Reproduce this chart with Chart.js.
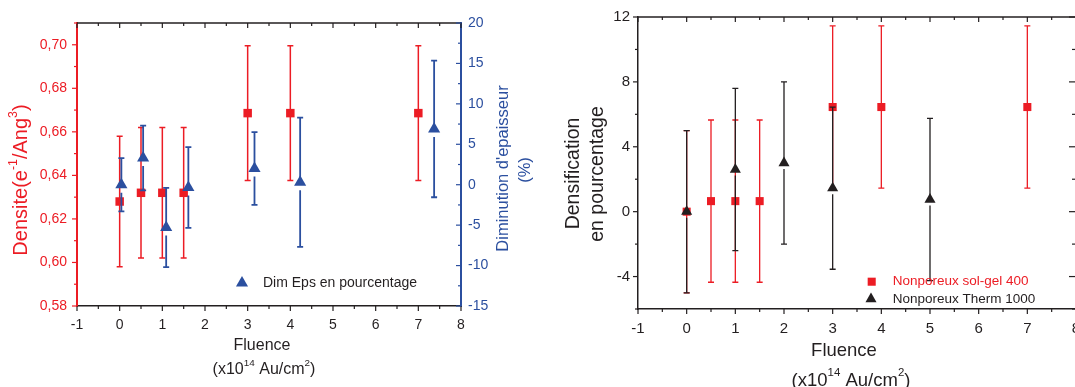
<!DOCTYPE html>
<html>
<head>
<meta charset="utf-8">
<script src="https://cdn.jsdelivr.net/npm/chart.js@4.4.1/dist/chart.umd.min.js"></script>
<style>
  html, body { margin: 0; padding: 0; background: #fff; overflow: hidden; }
  body { width: 1075px; height: 387px; position: relative; }
  #left { position: absolute; left: 0; top: 0; }
  #right { position: absolute; left: 540px; top: 0; }
</style>
</head>
<body>
<canvas id="left" width="540" height="387"></canvas>
<canvas id="right" width="560" height="387"></canvas>
<script>
// Left panel: density (red) + thickness decrease (blue)
const densFluence = [0, 0.5, 1, 1.5, 3, 4, 7];
const densValues = [0.628, 0.632, 0.632, 0.632, 0.6686, 0.6686, 0.6686];
const densErrors = [0.030, 0.030, 0.030, 0.030, 0.031, 0.031, 0.031];

const epsFluence = [0.04, 0.55, 1.09, 1.61, 3.16, 4.23, 7.37];
const epsValues = [0, 3.3, -5.3, -0.35, 2.0, 0.3, 6.9];
const epsErrors = [3.3, 4.0, 4.9, 5.0, 4.5, 8.0, 8.45];

// Right panel: densification in percent
const solgelFluence = [0, 0.5, 1, 1.5, 3, 4, 7];
const solgelValues = [0, 0.65, 0.65, 0.65, 6.45, 6.45, 6.45];
const solgelErrors = [5, 5, 5, 5, 5, 5, 5];

const thermFluence = [0, 1, 2, 3, 5];
const thermValues = [0, 2.6, 3.0, 1.45, 0.75];
const thermErrors = [5, 5, 5, 5, 5];

// axis ranges
const fluenceRange = [-1, 8];
const densRange = [0.58, 0.71];
const epsRange = [-15, 20];
const densifRange = [-6, 12];

const FONT = '"Liberation Sans", Arial, sans-serif';
const RED = '#ec1c24';
const BLUE = '#2b4f9f';
const DARK = '#231f20';

function toPoints(xs, ys) {
  return xs.map((x, i) => ({ x: x, y: ys[i] }));
}

// error bars, drawn just before each dataset's markers
const errorBars = {
  id: 'errorBars',
  beforeDatasetDraw(chart, args) {
    const ds = chart.data.datasets[args.index];
    if (!ds.errors) return;
    const xs = chart.scales[args.meta.xAxisID];
    const ys = chart.scales[args.meta.yAxisID];
    const ctx = chart.ctx;
    const cap = ds.errCap || 3;
    const gap = ds.errGap || [0, 0];
    ctx.save();
    ctx.strokeStyle = ds.errColor;
    ctx.lineWidth = ds.errWidth || 1.5;
    ds.data.forEach((p, i) => {
      const px = xs.getPixelForValue(p.x);
      const py = ys.getPixelForValue(p.y);
      const top = ys.getPixelForValue(p.y + ds.errors[i]);
      const bot = ys.getPixelForValue(p.y - ds.errors[i]);
      ctx.beginPath();
      ctx.moveTo(px, top); ctx.lineTo(px, py - gap[0]);
      ctx.moveTo(px, py + gap[1]); ctx.lineTo(px, bot);
      ctx.moveTo(px - cap, top); ctx.lineTo(px + cap, top);
      ctx.moveTo(px - cap, bot); ctx.lineTo(px + cap, bot);
      ctx.stroke();
    });
    ctx.restore();
  }
};

// frame lines + tick marks (in / out) on every side
const frameTicks = {
  id: 'frameTicks',
  afterDraw(chart, args, opts) {
    const ctx = chart.ctx;
    const a = chart.chartArea;
    ctx.save();
    (opts.lines || []).forEach(l => {
      ctx.strokeStyle = l.color;
      ctx.lineWidth = l.width;
      ctx.beginPath();
      if (l.side === 'top') { ctx.moveTo(a.left, a.top); ctx.lineTo(a.right, a.top); }
      if (l.side === 'right') { ctx.moveTo(a.right, a.top); ctx.lineTo(a.right, a.bottom); }
      ctx.stroke();
    });
    (opts.marks || []).forEach(m => {
      const scale = chart.scales[m.scale];
      ctx.strokeStyle = m.color;
      ctx.lineWidth = m.width || 1.2;
      scale.ticks.forEach(t => {
        const len = t.label !== '' ? m.major : m.minor;
        const p = scale.getPixelForValue(t.value);
        let sign = (m.side === 'bottom' || m.side === 'right') ? 1 : -1;
        if (m.dir === 'in') sign = -sign;
        ctx.beginPath();
        if (m.side === 'bottom' || m.side === 'top') {
          const y0 = m.side === 'bottom' ? a.bottom : a.top;
          ctx.moveTo(p, y0); ctx.lineTo(p, y0 + sign * len);
        } else {
          const x0 = m.side === 'left' ? a.left : a.right;
          ctx.moveTo(x0, p); ctx.lineTo(x0 + sign * len, p);
        }
        ctx.stroke();
      });
    });
    ctx.restore();
  }
};

// axis titles with superscripts, written as text^{sup}
const axisTitles = {
  id: 'axisTitles',
  afterDraw(chart, args, opts) {
    const ctx = chart.ctx;
    (opts.items || []).forEach(it => {
      const parts = [];
      const re = /\^\{([^}]*)\}/g;
      let last = 0, m;
      while ((m = re.exec(it.text)) !== null) {
        if (m.index > last) parts.push({ t: it.text.slice(last, m.index), sup: false });
        parts.push({ t: m[1], sup: true });
        last = re.lastIndex;
      }
      if (last < it.text.length) parts.push({ t: it.text.slice(last), sup: false });
      const supSize = it.size * 0.62;
      let w = 0;
      parts.forEach(p => {
        ctx.font = (p.sup ? supSize : it.size) + 'px ' + FONT;
        p.w = ctx.measureText(p.t).width;
        w += p.w;
      });
      ctx.save();
      ctx.translate(it.x, it.y);
      if (it.rotate) ctx.rotate(it.rotate * Math.PI / 180);
      ctx.fillStyle = it.color;
      ctx.textBaseline = 'middle';
      ctx.textAlign = 'left';
      let x = -w / 2;
      parts.forEach(p => {
        ctx.font = (p.sup ? supSize : it.size) + 'px ' + FONT;
        ctx.fillText(p.t, x, p.sup ? -it.size * 0.42 : 0);
        x += p.w;
      });
      ctx.restore();
    });
  }
};

// hand placed legend entries taken from datasets
const legendBox = {
  id: 'legendBox',
  afterDraw(chart, args, opts) {
    const ctx = chart.ctx;
    (opts.items || []).forEach(it => {
      const ds = chart.data.datasets[it.dataset];
      ctx.save();
      ctx.fillStyle = ds.backgroundColor;
      ctx.strokeStyle = ds.backgroundColor;
      Chart.helpers.drawPoint(ctx, { pointStyle: ds.pointStyle, radius: ds.pointRadius, rotation: 0, borderWidth: 0 }, it.x, it.y);
      ctx.font = it.size + 'px ' + FONT;
      ctx.fillStyle = it.color;
      ctx.textBaseline = 'middle';
      ctx.fillText(ds.label, it.tx, it.y);
      ctx.restore();
    });
  }
};

function xScale(fontSize, height, padding) {
  return {
    type: 'linear',
    min: fluenceRange[0],
    max: fluenceRange[1],
    ticks: {
      stepSize: 0.5,
      autoSkip: false,
      maxRotation: 0,
      padding: padding,
      color: DARK,
      font: { family: FONT, size: fontSize },
      callback: v => Number.isInteger(v) ? String(v) : ''
    },
    grid: { display: false, drawTicks: false },
    border: { color: DARK, width: 1.5 },
    afterFit: s => { s.height = height; }
  };
}

Chart.defaults.animation = false;

new Chart(document.getElementById('left'), {
  type: 'scatter',
  data: {
    datasets: [
      {
        label: 'Densite',
        data: toPoints(densFluence, densValues),
        errors: densErrors,
        errColor: RED, errWidth: 1.5, errCap: 3,
        pointStyle: 'rect', pointRadius: 6, borderWidth: 0,
        backgroundColor: RED,
        yAxisID: 'y', order: 2
      },
      {
        label: 'Dim Eps en pourcentage',
        data: toPoints(epsFluence, epsValues),
        errors: epsErrors,
        errColor: BLUE, errWidth: 1.8, errCap: 3, errGap: [0, 8],
        pointStyle: 'triangle', pointRadius: 7, borderWidth: 0,
        backgroundColor: BLUE,
        yAxisID: 'y2', order: 1
      }
    ]
  },
  options: {
    responsive: false,
    layout: { padding: { top: 23, left: 0, right: 0, bottom: 0 } },
    plugins: {
      legend: { display: false },
      tooltip: { enabled: false },
      frameTicks: {
        lines: [{ side: 'top', color: DARK, width: 1.5 }],
        marks: [
          { scale: 'x', side: 'bottom', dir: 'out', major: 5, minor: 3, color: DARK },
          { scale: 'x', side: 'top', dir: 'in', major: 5, minor: 3, color: DARK },
          { scale: 'y', side: 'left', dir: 'out', major: 5, minor: 3, color: RED },
          { scale: 'y2', side: 'right', dir: 'in', major: 5, minor: 3, color: BLUE }
        ]
      },
      axisTitles: {
        items: [
          { text: 'Densite(e^{-1}/Ang^{3})', x: 21.5, y: 180, rotate: -90, size: 20, color: RED },
          { text: "Diminution d'epaisseur", x: 503, y: 168.5, rotate: -90, size: 16.5, color: BLUE },
          { text: '(%)', x: 525, y: 170, rotate: -90, size: 16.5, color: BLUE },
          { text: 'Fluence', x: 262, y: 345.5, size: 16, color: DARK },
          { text: '(x10^{14} Au/cm^{2})', x: 264, y: 370, size: 16, color: DARK }
        ]
      },
      legendBox: {
        items: [{ dataset: 1, x: 242, y: 283, tx: 263, size: 14, color: DARK }]
      }
    },
    scales: {
      x: xScale(14, 81, 10.5),
      y: {
        type: 'linear',
        position: 'left',
        min: densRange[0],
        max: densRange[1],
        ticks: {
          stepSize: 0.01,
          autoSkip: false,
          padding: 10,
          color: RED,
          font: { family: FONT, size: 14 },
          callback: v => Math.round(v * 100) % 2 === 0 ? v.toFixed(2).replace('.', ',') : ''
        },
        grid: { display: false, drawTicks: false },
        border: { color: RED, width: 2 },
        afterFit: s => { s.width = 77; }
      },
      y2: {
        type: 'linear',
        position: 'right',
        min: epsRange[0],
        max: epsRange[1],
        ticks: {
          stepSize: 2.5,
          autoSkip: false,
          padding: 7,
          color: BLUE,
          font: { family: FONT, size: 14 },
          callback: v => v % 5 === 0 ? String(v) : ''
        },
        grid: { display: false, drawTicks: false },
        border: { color: BLUE, width: 2 },
        afterFit: s => { s.width = 79; }
      }
    }
  },
  plugins: [errorBars, frameTicks, axisTitles, legendBox]
});

new Chart(document.getElementById('right'), {
  type: 'scatter',
  data: {
    datasets: [
      {
        label: 'Nonporeux sol-gel 400',
        data: toPoints(solgelFluence, solgelValues),
        errors: solgelErrors,
        errColor: RED, errWidth: 1.3, errCap: 3,
        pointStyle: 'rect', pointRadius: 5.7, borderWidth: 0,
        backgroundColor: RED,
        order: 2
      },
      {
        label: 'Nonporeux Therm 1000',
        data: toPoints(thermFluence, thermValues),
        errors: thermErrors,
        errColor: DARK, errWidth: 1.3, errCap: 3, errGap: [0, 6],
        pointStyle: 'triangle', pointRadius: 6.4, borderWidth: 0,
        backgroundColor: DARK,
        order: 1
      }
    ]
  },
  options: {
    responsive: false,
    layout: { padding: { top: 15, left: 0, right: 24, bottom: 0 } },
    plugins: {
      legend: { display: false },
      tooltip: { enabled: false },
      frameTicks: {
        lines: [
          { side: 'top', color: DARK, width: 1.5 },
          { side: 'right', color: DARK, width: 1.5 }
        ],
        marks: [
          { scale: 'x', side: 'bottom', dir: 'out', major: 5, minor: 3, color: DARK },
          { scale: 'x', side: 'top', dir: 'in', major: 5, minor: 3, color: DARK },
          { scale: 'y', side: 'left', dir: 'out', major: 5, minor: 3, color: DARK },
          { scale: 'y', side: 'right', dir: 'in', major: 7, minor: 4, color: DARK }
        ]
      },
      axisTitles: {
        items: [
          { text: 'Densification', x: 33.7, y: 173.5, rotate: -90, size: 19.5, color: DARK },
          { text: 'en pourcentage', x: 57.7, y: 174, rotate: -90, size: 19.5, color: DARK },
          { text: 'Fluence', x: 304, y: 350.7, size: 18.5, color: DARK },
          { text: '(x10^{14} Au/cm^{2})', x: 311, y: 381, size: 18.5, color: DARK }
        ]
      },
      legendBox: {
        items: [
          { dataset: 0, x: 331.7, y: 281.7, tx: 352.7, size: 13.5, color: RED },
          { dataset: 1, x: 331, y: 299, tx: 352.7, size: 13.5, color: DARK }
        ]
      }
    },
    scales: {
      x: xScale(15, 78, 10.5),
      y: {
        type: 'linear',
        position: 'left',
        min: densifRange[0],
        max: densifRange[1],
        ticks: {
          stepSize: 2,
          autoSkip: false,
          padding: 8,
          color: DARK,
          font: { family: FONT, size: 15 },
          callback: v => v % 4 === 0 ? String(v) : ''
        },
        grid: { display: false, drawTicks: false },
        border: { color: DARK, width: 1.5 },
        afterFit: s => { s.width = 98; }
      }
    }
  },
  plugins: [errorBars, frameTicks, axisTitles, legendBox]
});
</script>
</body>
</html>
